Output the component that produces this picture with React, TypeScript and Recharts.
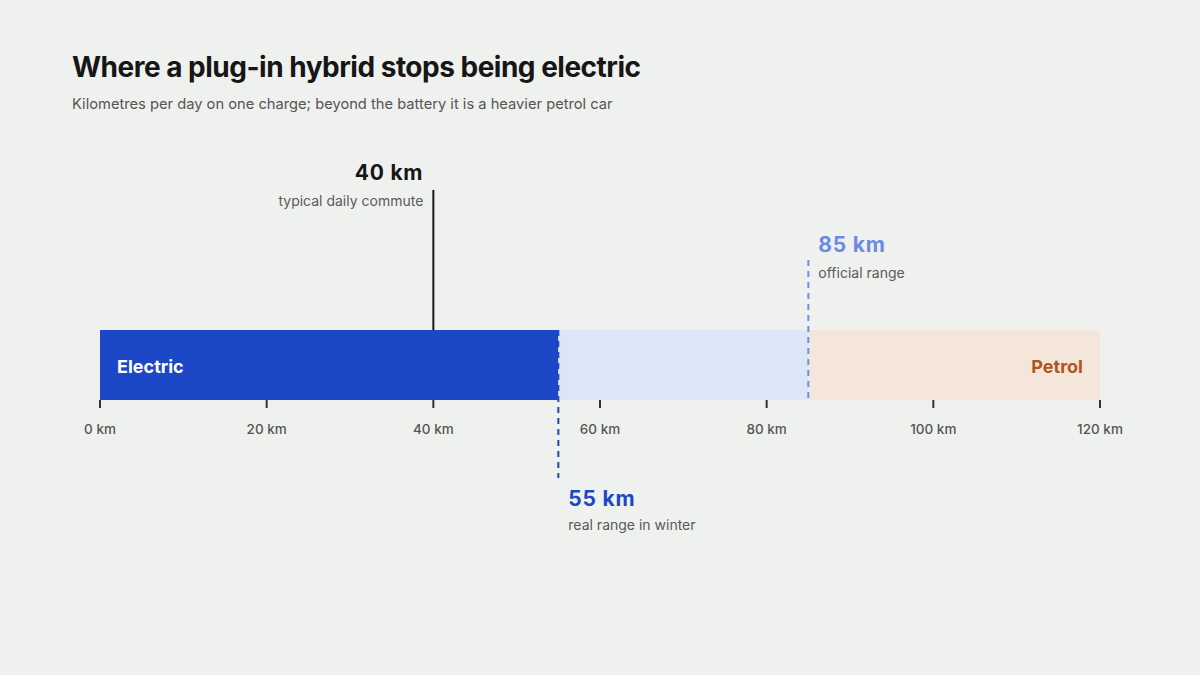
import React from "react"
import { BarChart, Bar, XAxis, YAxis, ReferenceLine, LabelList } from "recharts"

const rows = ["range"]
const electricKm = [55]
const batteryGapKm = [30]
const petrolKm = [35]
const xTicks = [0, 20, 40, 60, 80, 100, 120]

const markerValues = [40, 55, 85]
const markerLabels = ["40 km", "55 km", "85 km"]
const markerNotes = ["typical daily commute", "real range in winter", "official range"]

const data = rows.map((name, i) => ({
  name,
  electric: electricKm[i],
  gap: batteryGapKm[i],
  petrol: petrolKm[i],
}))

const FONT = "Inter, 'Noto Sans', sans-serif"

// draws a marker line that runs past the bar, plus its two-line note
function Marker(props: any) {
  const { x1, y1, y2, kind } = props
  const x = x1
  const top = Math.min(y1, y2)
  const bottom = Math.max(y1, y2)
  if (kind === 0) {
    return (
      <g>
        <line x1={x} x2={x} y1={top - 140} y2={top} stroke="#1a1a1a" strokeWidth={2} />
        <text x={x - 10} y={180} textAnchor="end" fill="#161616" fontSize={21} fontWeight={700} fontFamily={FONT} letterSpacing={0.8}>
          {markerLabels[0]}
        </text>
        <text x={x - 10} y={206} textAnchor="end" fill="#5a5a5a" fontSize={14} fontFamily={FONT}>
          {markerNotes[0]}
        </text>
      </g>
    )
  }
  if (kind === 1) {
    return (
      <g>
        <line x1={x} x2={x} y1={top} y2={bottom + 78} stroke="#1c47c6" strokeWidth={2} strokeDasharray="6 5" />
        <text x={x + 10} y={506} fill="#1c47c6" fontSize={21} fontWeight={700} fontFamily={FONT} letterSpacing={0.8}>
          {markerLabels[1]}
        </text>
        <text x={x + 10} y={530} fill="#5a5a5a" fontSize={14} fontFamily={FONT}>
          {markerNotes[1]}
        </text>
      </g>
    )
  }
  return (
    <g>
      <line x1={x} x2={x} y1={top - 70} y2={bottom} stroke="#6e8cee" strokeWidth={2} strokeDasharray="6 5" />
      <text x={x + 10} y={252} fill="#6b8ae8" fontSize={21} fontWeight={700} fontFamily={FONT} letterSpacing={0.8}>
        {markerLabels[2]}
      </text>
      <text x={x + 10} y={278} fill="#5a5a5a" fontSize={14} fontFamily={FONT}>
        {markerNotes[2]}
      </text>
    </g>
  )
}

export default function App() {
  return (
    <div style={{ position: "absolute", left: 0, top: 0, width: 1200, height: 675, background: "#eff1ee", fontFamily: FONT }}>
      <div style={{ position: "absolute", left: 72, top: 50, fontSize: 28, fontWeight: 700, color: "#161616", letterSpacing: -0.5 }}>
        Where a plug-in hybrid stops being electric
      </div>
      <div style={{ position: "absolute", left: 72, top: 95, fontSize: 14.7, color: "#555" }}>
        Kilometres per day on one charge; beyond the battery it is a heavier petrol car
      </div>
      <div style={{ position: "absolute", left: 0, top: 0 }}>
        <BarChart
          width={1200}
          height={675}
          data={data}
          layout="vertical"
          margin={{ top: 330, right: 100, bottom: 245, left: 100 }}
          barCategoryGap={0}
        >
          <XAxis
            type="number"
            domain={[0, 120]}
            ticks={xTicks}
            axisLine={false}
            tickLine={{ stroke: "#333", strokeWidth: 2 }}
            tickSize={8}
            tickMargin={16}
            height={30}
            tick={{ fill: "#555", fontSize: 13.5, fontWeight: 500, fontFamily: FONT }}
            tickFormatter={(v) => `${v} km`}
            interval={0}
          />
          <YAxis type="category" dataKey="name" hide />
          <Bar dataKey="electric" stackId="a" fill="#1c47c6" isAnimationActive={false}>
            <LabelList
              dataKey="electric"
              position="insideLeft"
              offset={17}
              formatter={() => "Electric"}
              style={{ fill: "#fff", fontSize: 18, fontWeight: 700, fontFamily: FONT, transform: "translateY(2px)" }}
            />
          </Bar>
          <Bar dataKey="gap" stackId="a" fill="#dde5f8" isAnimationActive={false} />
          <Bar dataKey="petrol" stackId="a" fill="#f4e6da" isAnimationActive={false}>
            <LabelList
              dataKey="petrol"
              position="insideRight"
              offset={17}
              formatter={() => "Petrol"}
              style={{ fill: "#b0561c", fontSize: 18, fontWeight: 700, fontFamily: FONT, transform: "translateY(2px)" }}
            />
          </Bar>
          {markerValues.map((v, i) => (
            <ReferenceLine key={v} x={v} ifOverflow="visible" shape={(p: any) => <Marker {...p} kind={i} />} />
          ))}
        </BarChart>
      </div>
    </div>
  )
}
